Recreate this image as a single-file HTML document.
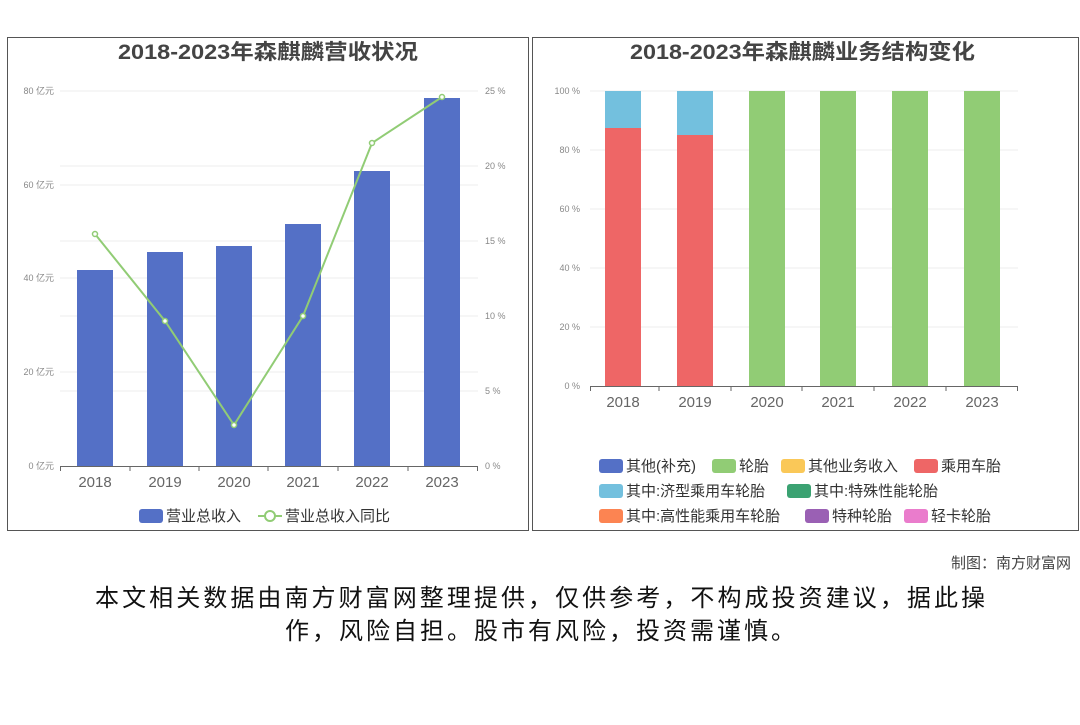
<!DOCTYPE html>
<html><head><meta charset="utf-8"><style>
body{margin:0;width:1080px;height:720px;background:#fff;overflow:hidden;font-family:"Liberation Sans","Noto Sans CJK SC",sans-serif;}
svg text{font-family:"Liberation Sans","Noto Sans CJK SC",sans-serif;}
</style></head><body>
<svg width="1080" height="720" viewBox="0 0 1080 720">
<rect x="7.5" y="37.5" width="521" height="493" fill="#fff" stroke="#555"/>
<rect x="532.5" y="37.5" width="546" height="493" fill="#fff" stroke="#555"/>
<text x="118" y="59" font-size="21" font-weight="bold" fill="#444" textLength="300" lengthAdjust="spacingAndGlyphs">2018-2023年森麒麟营收状况</text>
<text x="630" y="59" font-size="21" font-weight="bold" fill="#444" textLength="345" lengthAdjust="spacingAndGlyphs">2018-2023年森麒麟业务结构变化</text>
<g stroke="#eee">
<line x1="60" x2="478" y1="91" y2="91"/><line x1="60" x2="478" y1="185" y2="185"/><line x1="60" x2="478" y1="278" y2="278"/><line x1="60" x2="478" y1="372" y2="372"/>
<line x1="60" x2="478" y1="166" y2="166"/><line x1="60" x2="478" y1="241" y2="241"/><line x1="60" x2="478" y1="316" y2="316"/><line x1="60" x2="478" y1="391" y2="391"/>
</g>
<line x1="60" x2="478" y1="466.5" y2="466.5" stroke="#666"/>
<g stroke="#666"><line x1="60.5" x2="60.5" y1="466" y2="471"/><line x1="130" x2="130" y1="466" y2="471"/><line x1="199" x2="199" y1="466" y2="471"/><line x1="268" x2="268" y1="466" y2="471"/><line x1="338" x2="338" y1="466" y2="471"/><line x1="408" x2="408" y1="466" y2="471"/><line x1="477.5" x2="477.5" y1="466" y2="471"/></g>
<g font-size="9" fill="#888" text-anchor="end">
<text x="54" y="94">80 亿元</text><text x="54" y="188">60 亿元</text><text x="54" y="281">40 亿元</text><text x="54" y="375">20 亿元</text><text x="54" y="469">0 亿元</text>
</g>
<g font-size="9" fill="#888">
<text x="485" y="94">25 %</text><text x="485" y="169">20 %</text><text x="485" y="244">15 %</text><text x="485" y="319">10 %</text><text x="485" y="394">5 %</text><text x="485" y="469">0 %</text>
</g>
<g fill="#5470c6">
<rect x="77" y="270" width="36" height="196"/><rect x="147" y="252" width="36" height="214"/><rect x="216" y="246" width="36" height="220"/><rect x="285" y="224" width="36" height="242"/><rect x="354" y="171" width="36" height="295"/><rect x="424" y="98" width="36" height="368"/>
</g>
<polyline points="95,234 165,321 234,425 303,316 372,143 442,97" fill="none" stroke="#91cc75" stroke-width="2"/>
<g fill="#fff" stroke="#91cc75" stroke-width="1.5">
<circle cx="95" cy="234" r="2.5"/><circle cx="165" cy="321" r="2.5"/><circle cx="234" cy="425" r="2.5"/><circle cx="303" cy="316" r="2.5"/><circle cx="372" cy="143" r="2.5"/><circle cx="442" cy="97" r="2.5"/>
</g>
<g font-size="15" fill="#666" text-anchor="middle">
<text x="95" y="487">2018</text><text x="165" y="487">2019</text><text x="234" y="487">2020</text><text x="303" y="487">2021</text><text x="372" y="487">2022</text><text x="442" y="487">2023</text>
</g>
<rect x="139" y="509" width="24" height="14" rx="3" fill="#5470c6"/>
<text x="166" y="521" font-size="15" fill="#333">营业总收入</text>
<line x1="258" x2="282" y1="516" y2="516" stroke="#91cc75" stroke-width="2"/>
<circle cx="270" cy="516" r="5" fill="#fff" stroke="#91cc75" stroke-width="2"/>
<text x="285" y="521" font-size="15" fill="#333">营业总收入同比</text>
<g stroke="#eee">
<line x1="590" x2="1018" y1="91" y2="91"/><line x1="590" x2="1018" y1="150" y2="150"/><line x1="590" x2="1018" y1="209" y2="209"/><line x1="590" x2="1018" y1="268" y2="268"/><line x1="590" x2="1018" y1="327" y2="327"/>
</g>
<line x1="590" x2="1018" y1="386.5" y2="386.5" stroke="#666"/>
<g stroke="#666"><line x1="590.5" x2="590.5" y1="386" y2="391"/><line x1="659" x2="659" y1="386" y2="391"/><line x1="731" x2="731" y1="386" y2="391"/><line x1="802" x2="802" y1="386" y2="391"/><line x1="874" x2="874" y1="386" y2="391"/><line x1="946" x2="946" y1="386" y2="391"/><line x1="1017.5" x2="1017.5" y1="386" y2="391"/></g>
<g font-size="9" fill="#888" text-anchor="end">
<text x="580" y="94">100 %</text><text x="580" y="153">80 %</text><text x="580" y="212">60 %</text><text x="580" y="271">40 %</text><text x="580" y="330">20 %</text><text x="580" y="389">0 %</text>
</g>
<rect x="605" y="91" width="36" height="37" fill="#73c0de"/><rect x="605" y="128" width="36" height="258" fill="#ee6666"/>
<rect x="677" y="91" width="36" height="44" fill="#73c0de"/><rect x="677" y="135" width="36" height="251" fill="#ee6666"/>
<g fill="#91cc75">
<rect x="749" y="91" width="36" height="295"/><rect x="820" y="91" width="36" height="295"/><rect x="892" y="91" width="36" height="295"/><rect x="964" y="91" width="36" height="295"/>
</g>
<g font-size="15" fill="#666" text-anchor="middle">
<text x="623" y="407">2018</text><text x="695" y="407">2019</text><text x="767" y="407">2020</text><text x="838" y="407">2021</text><text x="910" y="407">2022</text><text x="982" y="407">2023</text>
</g>
<g font-size="15" fill="#333">
<rect x="599" y="459" width="24" height="14" rx="3" fill="#5470c6"/><text x="626" y="471">其他(补充)</text>
<rect x="712" y="459" width="24" height="14" rx="3" fill="#91cc75"/><text x="739" y="471">轮胎</text>
<rect x="781" y="459" width="24" height="14" rx="3" fill="#fac858"/><text x="808" y="471">其他业务收入</text>
<rect x="914" y="459" width="24" height="14" rx="3" fill="#ee6666"/><text x="941" y="471">乘用车胎</text>
<rect x="599" y="484" width="24" height="14" rx="3" fill="#73c0de"/><text x="626" y="496">其中:济型乘用车轮胎</text>
<rect x="787" y="484" width="24" height="14" rx="3" fill="#3ba272"/><text x="814" y="496">其中:特殊性能轮胎</text>
<rect x="599" y="509" width="24" height="14" rx="3" fill="#fc8452"/><text x="626" y="521">其中:高性能乘用车轮胎</text>
<rect x="805" y="509" width="24" height="14" rx="3" fill="#9a60b4"/><text x="832" y="521">特种轮胎</text>
<rect x="904" y="509" width="24" height="14" rx="3" fill="#ea7ccc"/><text x="931" y="521">轻卡轮胎</text>
</g>
<text x="1071" y="568" font-size="15" fill="#444" text-anchor="end">制图：南方财富网</text>
<text x="95" y="606" font-size="24" fill="#111" textLength="890" lengthAdjust="spacing">本文相关数据由南方财富网整理提供，仅供参考，不构成投资建议，据此操</text>
<text x="285" y="639" font-size="24" fill="#111" textLength="510" lengthAdjust="spacing">作，风险自担。股市有风险，投资需谨慎。</text>
</svg>
</body></html>
